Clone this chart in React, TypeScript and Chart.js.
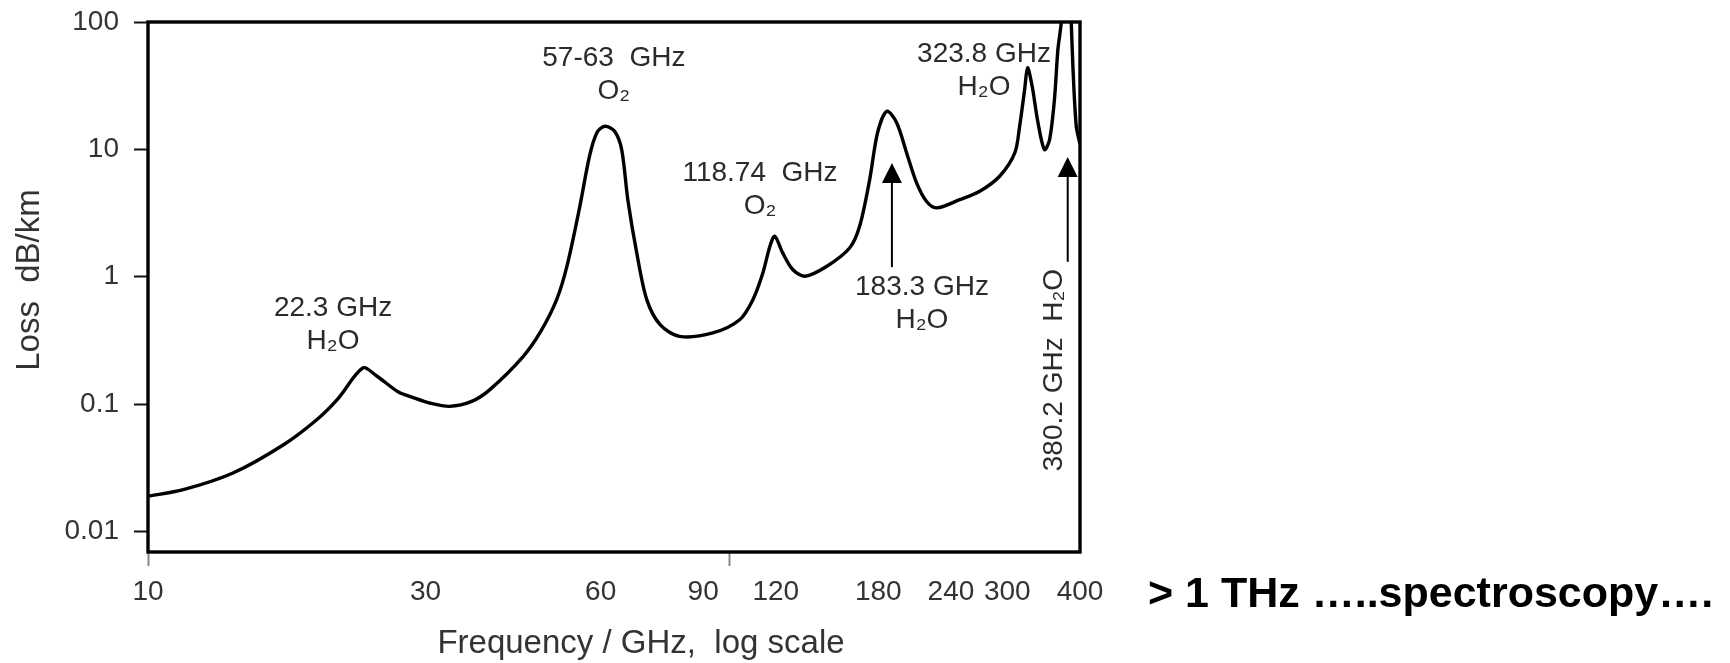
import React, { useEffect, useRef } from 'react';
import { Chart, registerables } from 'chart.js';

Chart.register(...registerables);

// ---- data ----
const FREQ_GHZ = [
  10, 11.5, 14.0, 17.1, 19.5, 21.2, 23.4, 24.7, 26.9, 28.5, 30.5, 33.0, 36.0, 38.7,
  44.1, 47.3, 50.4, 52.5, 55.2, 57.4, 59.1, 61.0, 63.4, 65.2, 66.8, 69.2, 72.0,
  75.9, 82.0, 93.5, 104, 109.6, 114, 117.2, 119.5, 123.3, 128.3, 134.6, 146.9, 160.7,
  167.2, 174.0, 179.5, 186.2, 193.6, 201.4, 209.5, 217.8, 226.7, 248.5, 269, 291, 309,
  315, 321.3, 325, 331, 338.7, 347.5, 354.6, 361.5, 366.5, 371.5, 379.3, 386.4, 388.9,
  394.1, 400,
];
const LOSS_DB_KM = [
  0.0189, 0.0213, 0.0288, 0.048, 0.0754, 0.11, 0.192, 0.167, 0.125, 0.113,
  0.102, 0.096, 0.105, 0.13, 0.235, 0.37, 0.66, 1.21, 3.5, 8.83, 13.5, 15.2,
  13.9, 9.96, 4.03, 1.54, 0.661, 0.421, 0.34, 0.362, 0.46, 0.661, 1.07, 1.73, 2.08,
  1.54, 1.14, 1.01, 1.21, 1.68, 2.49, 5.79, 13.5, 19.9, 16.2, 9.38, 5.45, 3.91, 3.47,
  4.03, 4.69, 6.15, 9.38, 15.2, 29.5, 43.7, 31.3, 16.2, 9.96, 11.9, 24.6, 60.8, 101,
  600, 98, 45, 15.2, 11,
];

const X_TICK_VALUES = [10, 30, 60, 90, 100, 120, 180, 240, 300, 400];
const X_TICK_LABELS = ['10', '30', '60', '90', '', '120', '180', '240', '300', '400'];
const X_TICK_MARKS = [10, 100];
const Y_TICK_VALUES = [0.01, 0.1, 1, 10, 100];
const Y_TICK_LABELS = ['0.01', '0.1', '1', '10', '100'];

const X_TITLE = 'Frequency / GHz,  log scale';
const Y_TITLE = 'Loss  dB/km';
const SIDE_NOTE = '> 1 THz …..spectroscopy….';

// annotation anchors in data units (frequency GHz, loss dB/km)
const PEAK_LABELS = [
  { lines: ['22.3 GHz', 'H₂O'], freq: 20.8, loss: 0.569 },
  { lines: ['57-63  GHz', 'O₂'], freq: 63.2, loss: 52.2 },
  { lines: ['118.74  GHz', 'O₂'], freq: 112.7, loss: 6.53 },
  { lines: ['183.3 GHz', 'H₂O'], freq: 214, loss: 0.831 },
  { lines: ['323.8 GHz', 'H₂O'], freq: 273.6, loss: 56.1 },
];
const ROTATED_LABEL = { text: '380.2 GHz  H₂O', freq: 362, loss: 0.185 };
const ARROWS = [
  { freq: 190, from: 1.19, to: 7.82 },
  { freq: 381, from: 1.31, to: 8.71 },
];

const FONT = '"Liberation Sans", Arial, Helvetica, sans-serif';

const overlayPlugin = {
  id: 'overlay',
  afterDraw(chart: any) {
    const { ctx, chartArea, scales } = chart;
    const xs = scales.x;
    const ys = scales.y;
    ctx.save();

    // frame
    ctx.strokeStyle = '#000';
    ctx.lineWidth = 3.4;
    ctx.strokeRect(chartArea.left, chartArea.top, chartArea.right - chartArea.left, chartArea.bottom - chartArea.top);

    // arrows
    ctx.fillStyle = '#000';
    ctx.strokeStyle = '#000';
    for (const a of ARROWS) {
      const x = xs.getPixelForValue(a.freq);
      const y0 = ys.getPixelForValue(a.from);
      const y1 = ys.getPixelForValue(a.to);
      ctx.lineWidth = 2;
      ctx.beginPath();
      ctx.moveTo(x, y0);
      ctx.lineTo(x, y1 + 16);
      ctx.stroke();
      ctx.beginPath();
      ctx.moveTo(x, y1);
      ctx.lineTo(x - 10, y1 + 20);
      ctx.lineTo(x + 10, y1 + 20);
      ctx.closePath();
      ctx.fill();
    }

    // peak labels
    ctx.fillStyle = '#2b2b2b';
    ctx.font = `28px ${FONT}`;
    ctx.textAlign = 'center';
    ctx.textBaseline = 'middle';
    for (const p of PEAK_LABELS) {
      const x = xs.getPixelForValue(p.freq);
      const y = ys.getPixelForValue(p.loss);
      p.lines.forEach((t, i) => ctx.fillText(t, x, y + i * 33));
    }

    // rotated label
    {
      const x = xs.getPixelForValue(ROTATED_LABEL.freq);
      const y = ys.getPixelForValue(ROTATED_LABEL.loss);
      ctx.save();
      ctx.translate(x, y);
      ctx.rotate(-Math.PI / 2);
      ctx.fillText(ROTATED_LABEL.text, 0, 0);
      ctx.restore();
    }

    // axis titles
    ctx.fillStyle = '#333';
    ctx.font = `33px ${FONT}`;
    ctx.fillText(X_TITLE, (chartArea.left + chartArea.right) / 2 + 27, 644);
    ctx.save();
    ctx.translate(30, 280);
    ctx.rotate(-Math.PI / 2);
    ctx.fillText(Y_TITLE, 0, 0);
    ctx.restore();

    // side note
    ctx.fillStyle = '#000';
    ctx.font = `bold 43px ${FONT}`;
    ctx.textAlign = 'left';
    ctx.fillText(SIDE_NOTE, 1148, 595);

    ctx.restore();
  },
};

const zeroPad = (s: any) => {
  s.paddingTop = 0;
  s.paddingBottom = 0;
  s.paddingLeft = 0;
  s.paddingRight = 0;
};

export default function App() {
  const canvasRef = useRef<HTMLCanvasElement | null>(null);

  useEffect(() => {
    const canvas = canvasRef.current;
    if (!canvas) return;
    const chart = new Chart(canvas, {
      type: 'line',
      data: {
        datasets: [
          {
            label: 'Loss',
            data: FREQ_GHZ.map((f, i) => ({ x: f, y: LOSS_DB_KM[i] })),
            borderColor: '#000',
            borderWidth: 3.4,
            pointRadius: 0,
            fill: false,
            tension: 0.3,
          },
        ],
      },
      options: {
        animation: false,
        responsive: false,
        devicePixelRatio: 1,
        events: [],
        layout: { padding: { left: 0, top: 22, right: 650, bottom: 0 } },
        plugins: { legend: { display: false }, tooltip: { enabled: false } },
        scales: {
          x: {
            type: 'logarithmic',
            min: 10,
            max: 400,
            position: 'bottom',
            afterFit: (s: any) => {
              s.height = 111;
              zeroPad(s);
            },
            afterBuildTicks: (s: any) => {
              s.ticks = X_TICK_VALUES.map((v) => ({ value: v }));
            },
            border: { display: false },
            grid: {
              drawOnChartArea: false,
              drawTicks: true,
              tickLength: 14,
              tickWidth: 2,
              tickColor: (c: any) =>
                c.tick && X_TICK_MARKS.includes(c.tick.value) ? '#888' : 'rgba(0,0,0,0)',
            },
            ticks: {
              autoSkip: false,
              maxRotation: 0,
              minRotation: 0,
              padding: 9,
              color: '#333',
              font: { size: 28, family: FONT },
              callback: (v: any) => {
                const i = X_TICK_VALUES.indexOf(Number(v));
                return i >= 0 ? X_TICK_LABELS[i] : '';
              },
            },
          },
          y: {
            type: 'logarithmic',
            min: 0.0069,
            max: 100,
            afterFit: (s: any) => {
              s.width = 148;
              zeroPad(s);
            },
            afterBuildTicks: (s: any) => {
              s.ticks = Y_TICK_VALUES.map((v) => ({ value: v }));
            },
            border: { display: false },
            grid: {
              drawOnChartArea: false,
              drawTicks: true,
              tickLength: 14,
              tickWidth: 2,
              tickColor: '#111',
            },
            ticks: {
              padding: 15,
              color: '#333',
              font: { size: 28, family: FONT },
              callback: (v: any) => {
                const i = Y_TICK_VALUES.findIndex((t) => Math.abs(t - Number(v)) < t * 1e-6);
                return i >= 0 ? Y_TICK_LABELS[i] : '';
              },
            },
          },
        },
      },
      plugins: [overlayPlugin],
    } as any);
    return () => chart.destroy();
  }, []);

  return (
    <div style={{ position: 'fixed', left: 0, top: 0, width: 1730, height: 663, background: '#fff' }}>
      <canvas ref={canvasRef} width={1730} height={663} style={{ display: 'block', width: 1730, height: 663 }} />
    </div>
  );
}
